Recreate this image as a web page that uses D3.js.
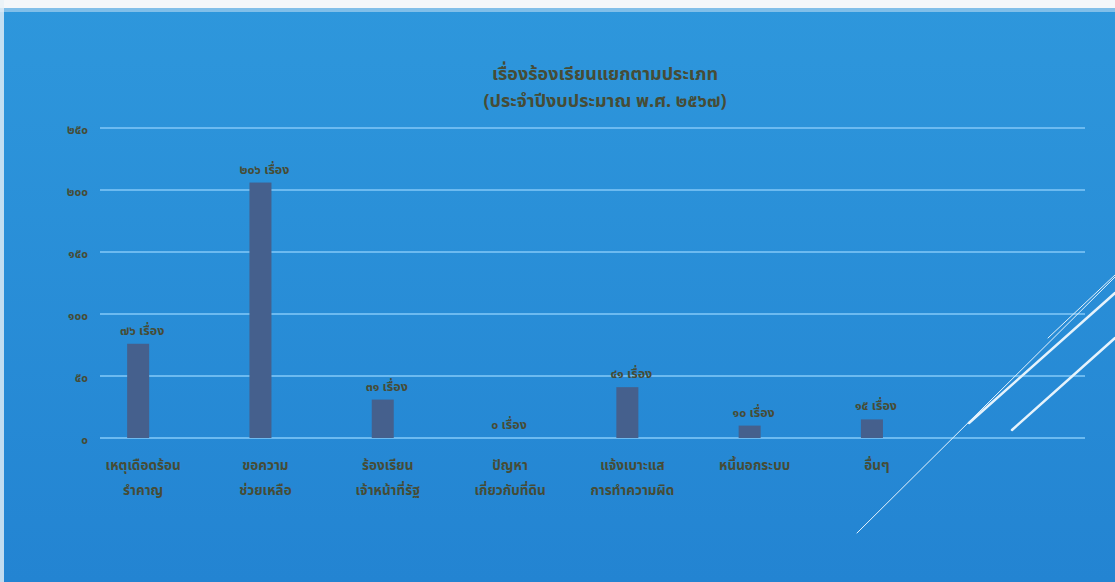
<!DOCTYPE html>
<html><head><meta charset="utf-8">
<script src="https://cdn.jsdelivr.net/npm/d3@7/dist/d3.min.js"></script>
<style>
html,body{margin:0;padding:0;background:#fff;}
svg{display:block;}
text{font-family:"Noto Sans Thai","Noto Sans","DejaVu Sans",sans-serif;}
</style></head>
<body>
<svg id="c" width="1115" height="582"></svg>
<script>
const titleLines = ["เรื่องร้องเรียนแยกตามประเภท", "(ประจำปีงบประมาณ พ.ศ. ๒๕๖๗)"];
const categories = [
  ["เหตุเดือดร้อน", "รำคาญ"],
  ["ขอความ", "ช่วยเหลือ"],
  ["ร้องเรียน", "เจ้าหน้าที่รัฐ"],
  ["ปัญหา", "เกี่ยวกับที่ดิน"],
  ["แจ้งเบาะแส", "การทำความผิด"],
  ["หนี้นอกระบบ"],
  ["อื่นๆ"]
];
const values = [76, 206, 31, 0, 41, 10, 15];
const valueLabels = ["๗๖ เรื่อง", "๒๐๖ เรื่อง", "๓๑ เรื่อง", "๐ เรื่อง", "๔๑ เรื่อง", "๑๐ เรื่อง", "๑๕ เรื่อง"];
const yTicks = [0, 50, 100, 150, 200, 250];
const yTickLabels = ["๐", "๕๐", "๑๐๐", "๑๕๐", "๒๐๐", "๒๕๐"];

const svg = d3.select("#c");
const W = 1115, H = 582;

// background
const defs = svg.append("defs");
const g1 = defs.append("linearGradient").attr("id","bg").attr("x1",0).attr("y1",0).attr("x2",0).attr("y2",1);
g1.append("stop").attr("offset","0%").attr("stop-color","#2e97dc");
g1.append("stop").attr("offset","100%").attr("stop-color","#2384d2");
svg.append("rect").attr("width",W).attr("height",H).attr("fill","url(#bg)");
svg.append("rect").attr("width",W).attr("height",8).attr("fill","#f4f7fa");
svg.append("rect").attr("y",8).attr("width",W).attr("height",4).attr("fill","#b9dbf2").attr("opacity",0.6);
svg.append("rect").attr("width",4).attr("height",H).attr("fill","#e8f1f8").attr("opacity",0.8);

const textColor = "#464c36";

// scales
const y = d3.scaleLinear().domain([0, 250]).range([438, 128]);
const x = d3.scaleBand().domain(d3.range(categories.length)).range([77, 77 + 7 * 122.3]).paddingInner(0.82).paddingOuter(0.41);

// gridlines
const grid = svg.append("g");
grid.selectAll("line").data(yTicks).join("line")
  .attr("x1", 100).attr("x2", 1085)
  .attr("y1", d => y(d)).attr("y2", d => y(d))
  .attr("stroke", "#6cbaf0").attr("stroke-width", 2);

// y axis labels
const yAxis = d3.axisLeft(y).tickValues(yTicks).tickSize(0).tickPadding(0)
  .tickFormat((d, i) => yTickLabels[i]);
const ya = svg.append("g").attr("transform", "translate(88,2)").call(yAxis);
ya.select(".domain").remove();
ya.selectAll("text").attr("fill", textColor).style("font-size", "12px").style("font-weight", "bold")
  .style("font-family", '"Noto Sans Thai","Noto Sans",sans-serif');

// bars
svg.append("g").selectAll("rect").data(values).join("rect")
  .attr("x", (d, i) => x(i)).attr("width", x.bandwidth())
  .attr("y", d => y(d)).attr("height", d => y(0) - y(d))
  .attr("fill", "#45608d");

// value labels
svg.append("g").selectAll("text").data(values).join("text")
  .attr("x", (d, i) => x(i) + x.bandwidth() / 2 + 4)
  .attr("y", d => y(d) - 9)
  .attr("text-anchor", "middle")
  .attr("fill", textColor).style("font-size", "12.5px").style("font-weight", "bold")
  .text((d, i) => valueLabels[i]);

// category labels
const cat = svg.append("g").selectAll("text").data(categories).join("text")
  .attr("x", (d, i) => x(i) + x.bandwidth() / 2 + 5)
  .attr("y", 470)
  .attr("text-anchor", "middle")
  .attr("fill", textColor).style("font-size", "13.5px").style("font-weight", "bold");
cat.selectAll("tspan").data(d => d).join("tspan")
  .attr("x", function() { return d3.select(this.parentNode).attr("x"); })
  .attr("dy", (d, i) => i === 0 ? 0 : 25)
  .text(d => d);

// title
svg.append("g").selectAll("text").data(titleLines).join("text")
  .attr("x", 605).attr("y", (d, i) => 80 + i * 27)
  .attr("text-anchor", "middle").attr("fill", textColor)
  .style("font-size", "18px").style("font-weight", "bold")
  .text(d => d);

// decorative diagonal lines
const deco = [
  {x1: 857, y1: 533, x2: 1115, y2: 277, w: 1},
  {x1: 969, y1: 423, x2: 1115, y2: 293, w: 2.5},
  {x1: 1048, y1: 338, x2: 1115, y2: 275, w: 1},
  {x1: 1012, y1: 430, x2: 1115, y2: 338, w: 2.5}
];
svg.append("g").selectAll("line").data(deco).join("line")
  .attr("x1", d => d.x1).attr("y1", d => d.y1).attr("x2", d => d.x2).attr("y2", d => d.y2)
  .attr("stroke", "#e6f3fc").attr("stroke-width", d => d.w).attr("stroke-linecap", "round");
</script>
</body></html>
